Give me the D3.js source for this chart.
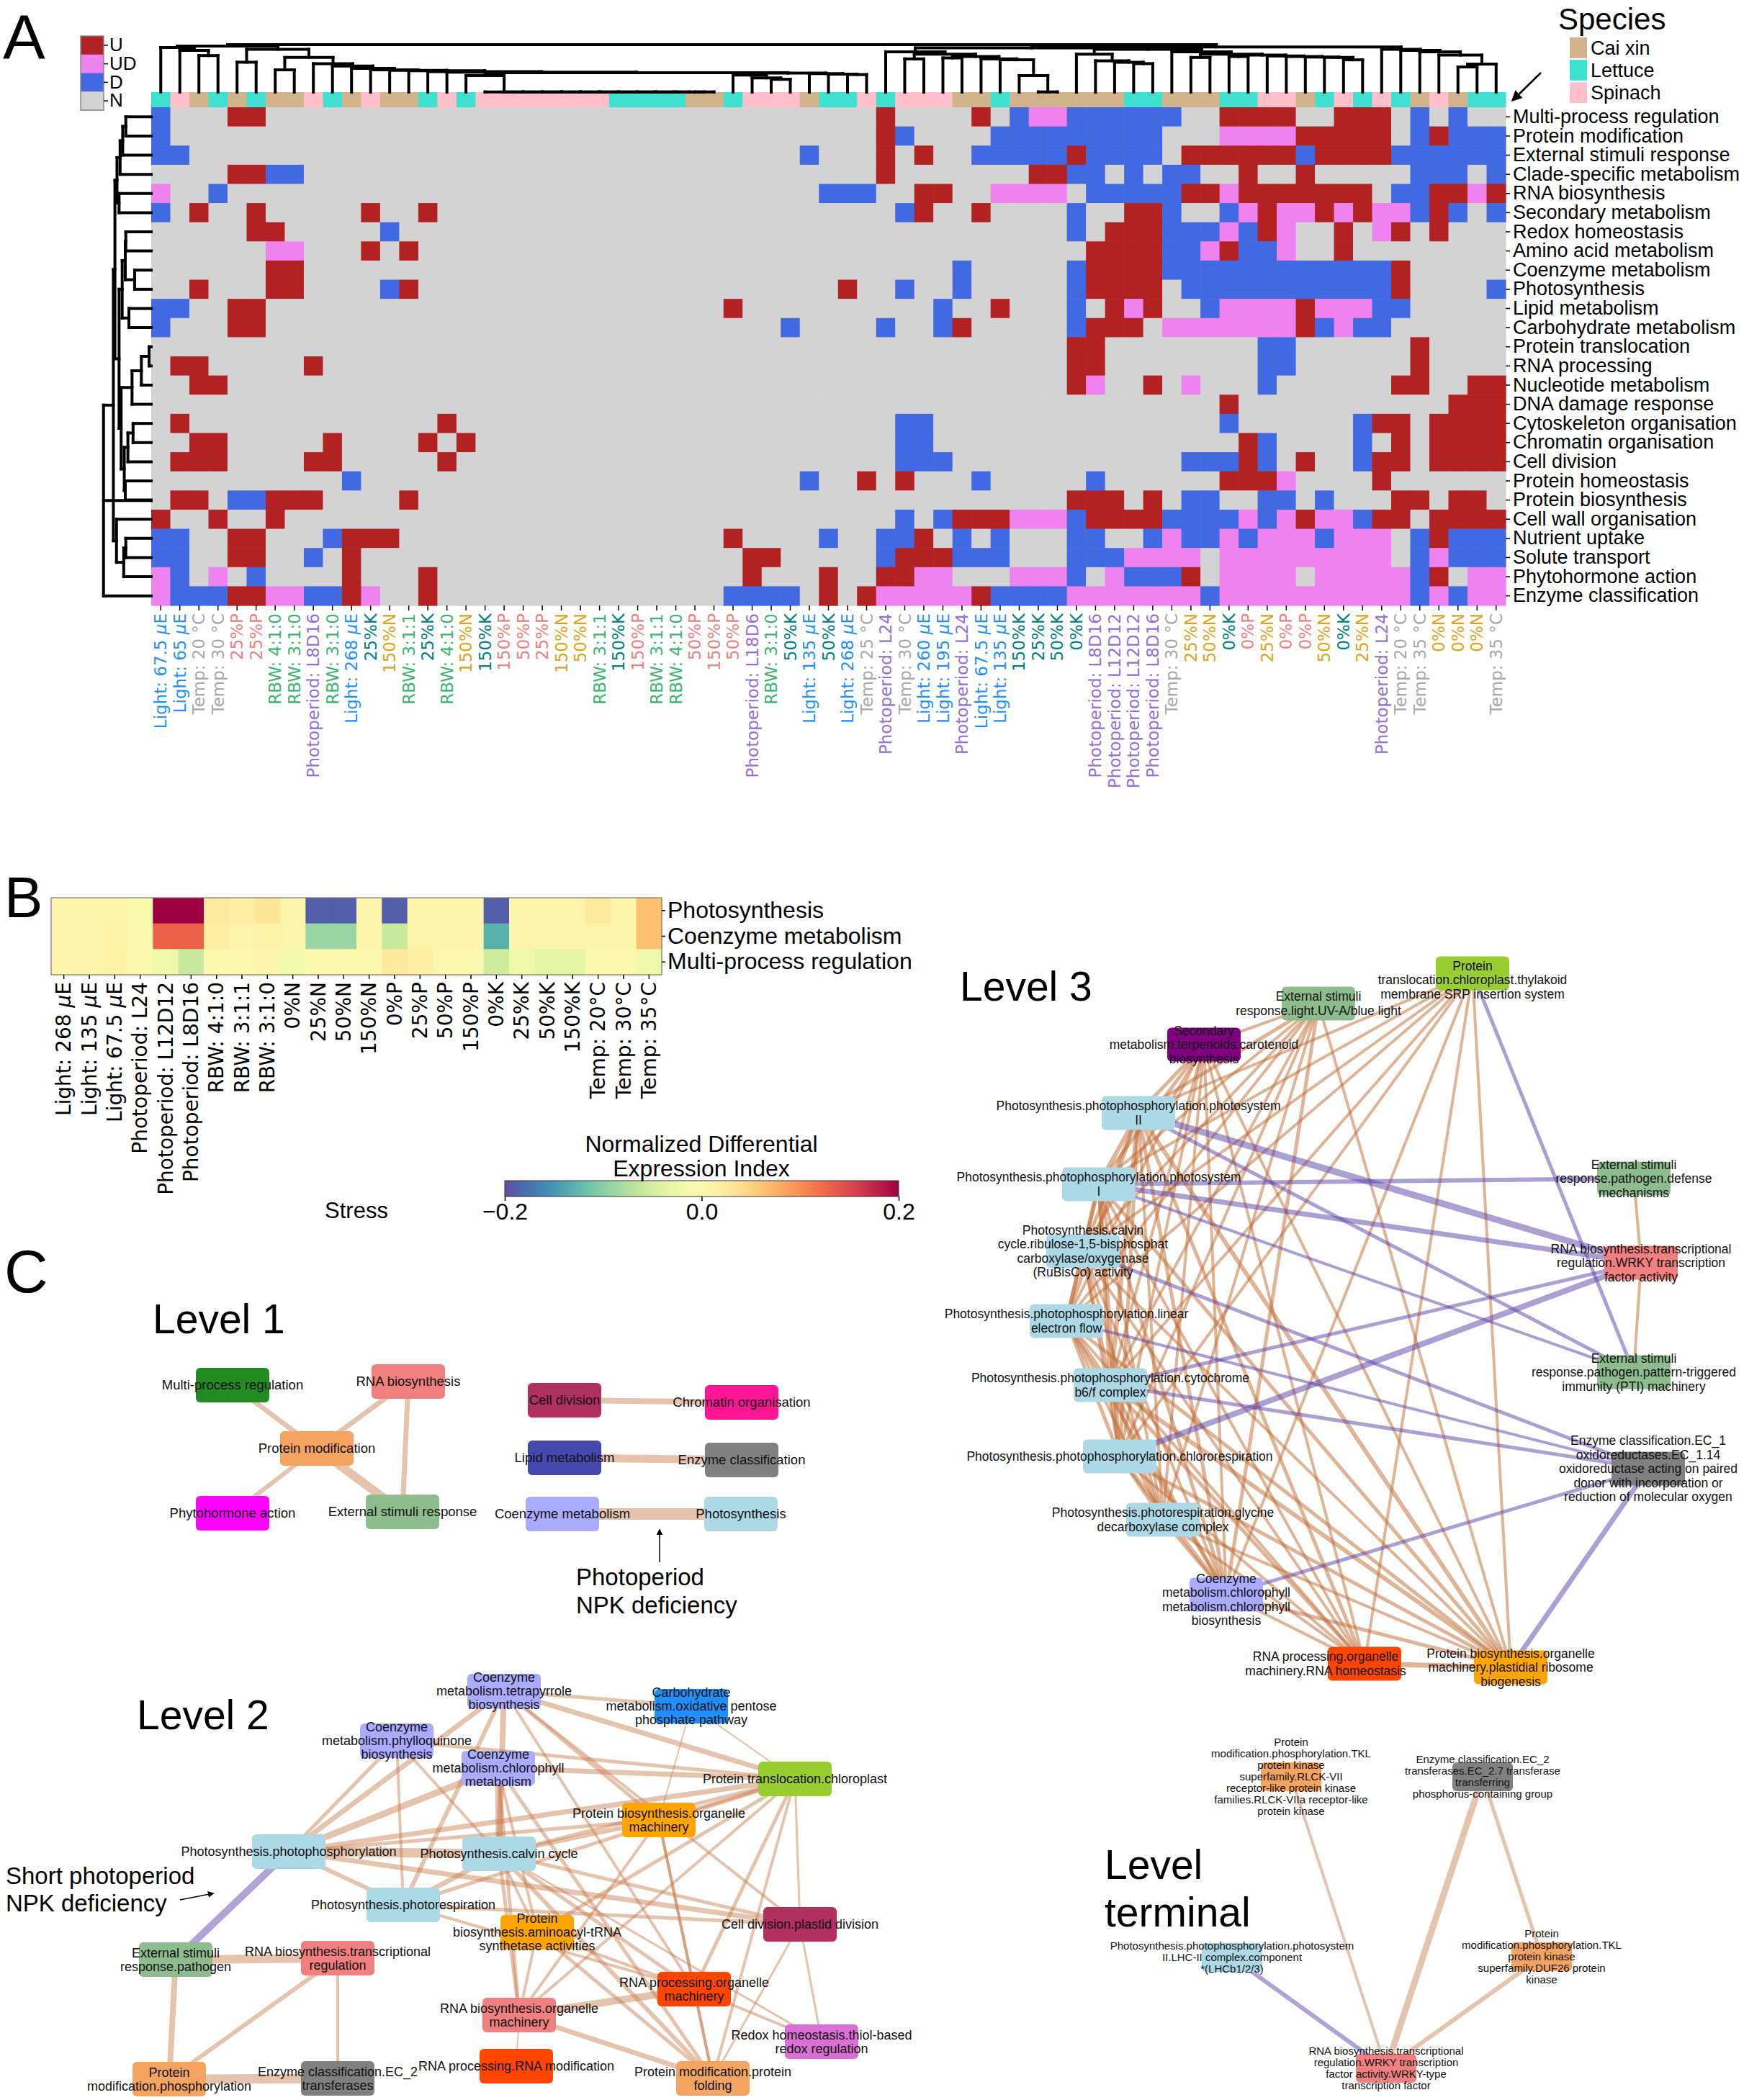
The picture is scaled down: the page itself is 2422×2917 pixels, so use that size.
<!DOCTYPE html>
<html>
<head>
<meta charset="utf-8">
<script src="https://cdn.jsdelivr.net/npm/d3@7/dist/d3.min.js"></script>
<style>
  body { margin: 0; background: #fff; }
  svg { display: block; font-family: "Liberation Sans", Arial, sans-serif; }
</style>
</head>
<body>
<div id="chart"></div>
<script>
'use strict';

// ---------------- Panel A: data ----------------
const rowNames = [
  'Multi-process regulation', 'Protein modification', 'External stimuli response',
  'Clade-specific metabolism', 'RNA biosynthesis', 'Secondary metabolism',
  'Redox homeostasis', 'Amino acid metabolism', 'Coenzyme metabolism', 'Photosynthesis',
  'Lipid metabolism', 'Carbohydrate metabolism', 'Protein translocation', 'RNA processing',
  'Nucleotide metabolism', 'DNA damage response', 'Cytoskeleton organisation',
  'Chromatin organisation', 'Cell division', 'Protein homeostasis', 'Protein biosynthesis',
  'Cell wall organisation', 'Nutrient uptake', 'Solute transport', 'Phytohormone action',
  'Enzyme classification'
];

const colLabels = [
  'Light: 67.5 μE', 'Light: 65 μE', 'Temp: 20 °C', 'Temp: 30 °C', '25%P', '25%P', 'RBW: 4:1:0', 'RBW: 3:1:0', 'Photoperiod: L8D16', 'RBW: 3:1:0',
  'Light: 268 μE', '25%K', '150%N', 'RBW: 3:1:1', '25%K', 'RBW: 4:1:0', '150%N', '150%K', '150%P', '50%P',
  '25%P', '150%N', '50%N', 'RBW: 3:1:1', '150%K', '150%P', 'RBW: 3:1:1', 'RBW: 4:1:0', '50%P', '150%P',
  '50%P', 'Photoperiod: L18D6', 'RBW: 3:1:0', '50%K', 'Light: 135 μE', '50%K', 'Light: 268 μE', 'Temp: 25 °C', 'Photoperiod: L24', 'Temp: 30 °C',
  'Light: 260 μE', 'Light: 195 μE', 'Photoperiod: L24', 'Light: 67.5 μE', 'Light: 135 μE', '150%K', '25%K', '50%K', '0%K', 'Photoperiod: L8D16',
  'Photoperiod: L12D12', 'Photoperiod: L12D12', 'Photoperiod: L8D16', 'Temp: 30 °C', '25%N', '50%N', '0%K', '0%P', '25%N', '0%P',
  '0%P', '50%N', '0%K', '25%N', 'Photoperiod: L24', 'Temp: 20 °C', 'Temp: 35 °C', '0%N', '0%N', '0%N',
  'Temp: 35 °C'
];

// C = Cai xin, L = Lettuce, S = Spinach
const colSpecies = 'LSCLCLCCSL CSCCLSLSSS SSSSLLLLCC LSSSCLLSLS SSCCLCCCCC CLLCCCLLSS CLSLSLCSCL L';

// u = U, x = UD, d = D, . = N   (71 columns, grouped by 10)
const heatRows = [
  'd...uu.... .......... .......... ........u. ...u.dxxdd dddd..uuuu ..uuu.d.d. .',
  'd......... .......... .......... ........ud ....dddddd ddd...xxxx uuuuu.dudd d',
  'dd........ .......... .......... ....d...u. u..dddddud ddd.uuuuuu duuuuddddd d',
  '....uudd.. .......... .......... ........u. ......uudd .d.dd..u.. u.....ddd. d',
  'x..d...... .......... .......... .....ddd.. uu..xxxx.d dddduuxuuu uuuu.dduux u',
  'd.u..u.... .u..u..... .......... .........d u..u....d. .uud..dxux xuxuxxdud. d',
  '.....uu... ..d....... .......... .......... ........d. uuudddxdux ..u.xu.u.. .',
  '......xx.. .u.u...... .......... .......... .........u uuuddxuddx ..u....... .',
  '......uu.. .......... .......... .......... ..d.....du uuuddddddd dddddu.... .',
  '..u...uu.. ..du...... .......... ......u..d ..d.....du uuu.dddddd dddddu.... d',
  'dd..uu.... .......... .......... u......... .d..u...d. uxu..dxxxx uxxxdd.... .',
  'd...uu.... .......... .......... ...d....d. .du.....du uu.xxxxxxx udxdd..... .',
  '.......... .......... .......... .......... ........uu ........dd ......u... .',
  '.uu.....u. .......... .......... .......... ........uu ........dd ......u... .',
  '..uu...... .......... .......... .......... ........ux ..u.x...d. .....uu..u u',
  '.......... .......... .......... .......... .......... ......u... ........uu u',
  '.u........ .....u.... .......... .........d d......... ......d... ...duu.uuu u',
  '..uu.....u ....u.u... .......... .........d d......... .......ud. ...d.u.uuu u',
  '.uuu....uu .....u.... .......... .........d dd........ ....dddud. u..duu.uuu u',
  '.......... d......... .......... ....d..u.u ...d.....d ......uuux ....u..... .',
  '.uu.dduuu. ...u...... .......... .......... ........uu u.u.dd..dd .d...uu.uu .',
  'u..u..u... .......... .......... .........d .duuuxxxdu uuuddddxdx uxxduu.uuu u',
  'dd..uu...d uuu....... .......... u....d..dd u.d.d...dd ..dxddxdxx xdxxx.dudd d',
  'dd..uu..d. u......... .......... .uu.....du uuddd...dd dxxxx.xxxx xxxxx.dxdd d',
  'xd.x.d.... u...u..... .......... .u...u..uu xx...xxxd. xdddu.xxxx .xxxxxdu.x x',
  'xddduuxxdd ux..u..... .......... dddd.u.uxx xxxuddddxx xxxxxdxxxx xxxxxxdxdx x'
];

// column dendrogram (leaf = column number, number after ')' = merge height 0..1)
const flatCols = '(18,(19,(20,(21,(22,(23,(24,(25,(26,(27,(28,(29,30)0.005)0.005)0.005)0.005)0.005)0.005)0.005)0.005)0.005)0.005)0.005)0.005';
const midCols = `((17,${flatCols})0.35,((31,(32,(33,34)0.27)0.30)0.36,(35,(36,(37,38)0.37)0.38)0.39)0.40)0.41`;
const ladderCols = `(9,(10,(11,(12,(13,(14,(15,(16,${midCols})0.42)0.43)0.45)0.46)0.47)0.50)0.55)0.60`;
const leftCols = `((1,(2,(3,4)0.77)0.88)0.94,((5,6)0.63,((7,8)0.47,${ladderCols})0.73)0.90)0.97`;
const rightColsA = '(39,((40,41)0.70,((42,43)0.72,(44,(45,(46,(47,48)0.005)0.35)0.68)0.70)0.75)0.80)0.85';
const rightColsB = '((49,(50,(51,(52,53)0.60)0.63)0.66)0.80,(54,((55,56)0.73,((57,58)0.75,(59,(60,(61,(62,(63,64)0.68)0.73)0.74)0.75)0.76)0.78)0.80)0.85)0.90';
const rightColsC = '(65,(66,(67,(68,((69,70)0.53,71)0.59)0.78)0.85)0.88)0.90';
const colTree = `(${leftCols},((${rightColsA},${rightColsB})0.93,${rightColsC})0.95)1.0`;

// row dendrogram (leaf = row number)
const rowTree = '((((((((1,2)0.49,3)0.55,4)0.60,(5,6)0.62)0.66,' +
  '((((7,8)0.49,(9,10)0.32)0.50,(11,12)0.43)0.56,' +
  '((((13,14)0.04,15)0.19,16)0.37,(((17,18)0.35,19)0.45,(20,21)0.50)0.52)0.58)0.62)0.70,' +
  '(22,((23,24)0.49,25)0.53)0.67)0.73,26)0.92';

const stateNames = ['U', 'UD', 'D', 'N'];
const speciesNames = ['Cai xin', 'Lettuce', 'Spinach'];

// ---------------- Panel B: data ----------------
const stressCols = ['Light: 268 μE', 'Light: 135 μE', 'Light: 67.5 μE', 'Photoperiod: L24', 'Photoperiod: L12D12',
  'Photoperiod: L8D16', 'RBW: 4:1:0', 'RBW: 3:1:1', 'RBW: 3:1:0', '0%N', '25%N', '50%N', '150%N', '0%P', '25%P',
  '50%P', '150%P', '0%K', '25%K', '50%K', '150%K', 'Temp: 20°C', 'Temp: 30°C', 'Temp: 35°C'];
const stressRows = ['Photosynthesis', 'Coenzyme metabolism', 'Multi-process regulation'];
const ndeiPhotosynthesis = [0.01, 0.01, 0.01, -0.005, 0.2, 0.2, 0.025, 0.02, 0.03, 0.01, -0.19, -0.19, 0.01, -0.19, 0.01, 0.01, 0.01, -0.19, 0.01, 0.01, 0.01, 0.025, 0.01, 0.065];
const ndeiCoenzyme = [0.01, 0.01, 0.015, 0.0, 0.13, 0.13, 0.02, 0.01, 0.015, 0.01, -0.09, -0.09, 0.01, -0.06, 0.01, 0.01, 0.01, -0.13, 0.01, 0.01, 0.01, 0.01, 0.01, 0.065];
const ndeiMultiProcess = [0.01, 0.01, 0.015, 0.005, -0.025, -0.06, 0.005, 0.005, 0.01, -0.02, 0.005, 0.005, 0.005, 0.025, 0.02, 0.005, 0.005, -0.055, -0.025, -0.035, -0.035, 0.005, 0.005, -0.025];

// ---------------- Panel C: networks ('|' = line break, x/y in layout units) ----------------
const level1Nodes = [
  ['Multi-process regulation', 123, 74], ['RNA biosynthesis', 367, 69], ['Protein modification', 240, 162],
  ['Phytohormone action', 123, 252], ['External stimuli response', 359, 250], ['Cell division', 584, 95],
  ['Chromatin organisation', 830, 98], ['Lipid metabolism', 584, 175], ['Enzyme classification', 830, 178],
  ['Coenzyme metabolism', 581, 253], ['Photosynthesis', 829, 253]
];
const level1Edges = [[1, 3, 7], [2, 3, 7], [2, 5, 7], [3, 4, 6], [3, 5, 12], [6, 7, 8], [8, 9, 11], [10, 11, 16]];

const level2Nodes = [
  ['Coenzyme|metabolism.tetrapyrrole|biosynthesis', 700, 49],
  ['Carbohydrate|metabolism.oxidative pentose|phosphate pathway', 960, 70],
  ['Coenzyme|metabolism.phylloquinone|biosynthesis', 551, 118],
  ['Coenzyme|metabolism.chlorophyll|metabolism', 692, 156],
  ['Protein translocation.chloroplast', 1104, 171],
  ['Protein biosynthesis.organelle|machinery', 915, 228],
  ['Photosynthesis.photophosphorylation', 401, 272],
  ['Photosynthesis.calvin cycle', 693, 275],
  ['Photosynthesis.photorespiration', 560, 346],
  ['Protein|biosynthesis.aminoacyl-tRNA|synthetase activities', 746, 384],
  ['Cell division.plastid division', 1111, 373],
  ['External stimuli|response.pathogen', 244, 422],
  ['RNA biosynthesis.transcriptional|regulation', 469, 420],
  ['RNA processing.organelle|machinery', 964, 463],
  ['RNA biosynthesis.organelle|machinery', 721, 499],
  ['Redox homeostasis.thiol-based|redox regulation', 1141, 536],
  ['RNA processing.RNA modification', 717, 570],
  ['Protein|modification.phosphorylation', 235, 588],
  ['Enzyme classification.EC_2|transferases', 469, 587],
  ['Protein modification.protein|folding', 990, 587]
];
const level2Edges = [
  [7, 12, 10, 'p'],
  [12, 13, 12], [12, 18, 8], [13, 18, 6], [13, 19, 4], [18, 19, 13],
  [7, 8, 13], [7, 1, 7], [7, 3, 5], [7, 4, 9], [7, 5, 7], [7, 6, 5], [7, 9, 6], [7, 11, 7],
  [8, 1, 8], [8, 3, 4], [8, 4, 9], [8, 5, 5], [8, 6, 6], [8, 9, 7], [8, 10, 4], [8, 14, 5], [8, 15, 5],
  [8, 20, 6], [8, 11, 5], [8, 16, 3],
  [1, 2, 5], [1, 5, 7], [1, 9, 6], [1, 6, 5], [1, 14, 4], [1, 11, 4],
  [2, 5, 2], [2, 6, 2], [3, 5, 5], [3, 9, 4],
  [4, 5, 7], [4, 15, 5], [4, 20, 5], [4, 10, 4],
  [5, 6, 5], [5, 9, 5], [5, 10, 5], [5, 14, 5], [5, 15, 4], [5, 20, 4], [5, 11, 3],
  [9, 11, 5], [9, 14, 4], [10, 14, 4], [10, 20, 5], [10, 15, 4],
  [11, 16, 3], [11, 20, 3], [14, 15, 10], [14, 16, 4], [14, 20, 4],
  [15, 17, 2], [15, 20, 7], [6, 14, 4], [6, 20, 4], [6, 15, 4]
];

const level3Nodes = [
  ['Protein|translocation.chloroplast.thylakoid|membrane SRP insertion system', 745, 52, 0, 9],
  ['External stimuli|response.light.UV-A/blue light', 531, 94],
  ['Secondary|metabolism.terpenoids.carotenoid|biosynthesis', 372, 151],
  ['Photosynthesis.photophosphorylation.photosystem|II', 281, 246],
  ['Photosynthesis.photophosphorylation.photosystem|I', 226, 345],
  ['Photosynthesis.calvin|cycle.ribulose-1,5-bisphosphat|carboxylase/oxygenase|(RuBisCo) activity', 204, 438],
  ['Photosynthesis.photophosphorylation.linear|electron flow', 181, 535],
  ['Photosynthesis.photophosphorylation.cytochrome|b6/f complex', 242, 624],
  ['Photosynthesis.photophosphorylation.chlororespiration', 255, 723],
  ['Photosynthesis.photorespiration.glycine|decarboxylase complex', 315, 811],
  ['Coenzyme|metabolism.chlorophyll|metabolism.chlorophyll|biosynthesis', 403, 915, 0, 7],
  ['RNA processing.organelle|machinery.RNA homeostasis', 595, 1011, -54, 0],
  ['Protein biosynthesis.organelle|machinery.plastidial ribosome|biogenesis', 798, 1016],
  ['External stimuli|response.pathogen.defense|mechanisms', 969, 337],
  ['RNA biosynthesis.transcriptional|regulation.WRKY transcription|factor activity', 979, 454],
  ['External stimuli|response.pathogen.pattern-triggered|immunity (PTI) machinery', 969, 606],
  ['Enzyme classification.EC_1|oxidoreductases.EC_1.14|oxidoreductase acting on paired|donor with incorporation or|reduction of molecular oxygen', 989, 740]
];
const level3Edges = [
  [4, 5, 6], [4, 6, 5], [4, 7, 5], [4, 8, 6], [4, 9, 5], [4, 10, 4], [4, 11, 5],
  [5, 6, 5], [5, 7, 6], [5, 8, 5], [5, 9, 6], [5, 10, 4], [5, 11, 5],
  [6, 7, 5], [6, 8, 5], [6, 9, 4], [6, 10, 4], [6, 11, 4],
  [7, 8, 6], [7, 9, 5], [7, 10, 4], [7, 11, 5],
  [8, 9, 6], [8, 10, 5], [8, 11, 5], [9, 10, 5], [9, 11, 6], [10, 11, 5],
  [4, 12, 5], [4, 13, 6], [5, 12, 4], [5, 13, 5], [6, 12, 4], [6, 13, 4], [7, 12, 4], [7, 13, 5],
  [8, 12, 5], [8, 13, 6], [9, 12, 4], [9, 13, 5], [10, 12, 4], [10, 13, 4], [11, 12, 4], [11, 13, 5], [12, 13, 7],
  [1, 4, 4], [1, 5, 4], [1, 6, 4], [1, 7, 4], [1, 8, 4], [1, 9, 4], [1, 11, 4], [1, 12, 4], [1, 13, 4],
  [2, 3, 4], [2, 4, 5], [2, 5, 4], [2, 6, 4], [2, 7, 4], [2, 8, 4], [2, 9, 4], [2, 10, 4], [2, 11, 5], [2, 13, 4],
  [3, 4, 5], [3, 5, 5], [3, 6, 4], [3, 7, 4], [3, 8, 4], [3, 9, 4], [3, 10, 4], [3, 11, 4], [3, 12, 4], [3, 13, 4],
  [14, 15, 4], [15, 16, 4],
  [4, 15, 9, 'p'], [4, 16, 5, 'p'], [5, 14, 6, 'p'], [5, 15, 7, 'p'], [5, 16, 4, 'p'], [6, 17, 5, 'p'],
  [7, 17, 4, 'p'], [8, 15, 5, 'p'], [8, 17, 5, 'p'], [9, 15, 8, 'p'], [11, 17, 5, 'p'], [1, 16, 5, 'p'], [13, 17, 7, 'p']
];

const terminalNodes = [
  ['Protein|modification.phosphorylation.TKL|protein kinase|superfamily.RLCK-VII|receptor-like protein kinase|families.RLCK-VIIa receptor-like|protein kinase', 293, 88],
  ['Enzyme classification.EC_2|transferases.EC_2.7 transferase|transferring|phosphorus-containing group', 559, 88],
  ['Photosynthesis.photophosphorylation.photosystem|II.LHC-II complex.component|*(LHCb1/2/3)', 211, 339],
  ['Protein|modification.phosphorylation.TKL|protein kinase|superfamily.DUF26 protein|kinase', 641, 338],
  ['RNA biosynthesis.transcriptional|regulation.WRKY transcription|factor activity.WRKY-type|transcription factor', 425, 493]
];
const terminalEdges = [[1, 5, 4], [2, 5, 9], [2, 4, 5], [4, 5, 6], [3, 5, 6, 'p']];

// ---------------- styles ----------------
const W = 2422, H = 2917;
const stateColor = d3.scaleOrdinal().domain(stateNames).range(['#b22222', '#ee82ee', '#4169e1', '#d3d3d3']);
const speciesColor = d3.scaleOrdinal().domain(['C', 'L', 'S']).range(['#d2b48c', '#40e0d0', '#ffc0cb']);
const catColor = d3.scaleOrdinal()
  .domain(['Multi-process regulation', 'RNA biosynthesis', 'Protein modification', 'Phytohormone action',
    'External stimuli response', 'Cell division', 'Chromatin organisation', 'Lipid metabolism',
    'Enzyme classification', 'Coenzyme metabolism', 'Photosynthesis', 'Carbohydrate metabolism',
    'Protein translocation', 'Protein biosynthesis', 'RNA processing', 'Redox homeostasis', 'Secondary metabolism'])
  .range(['#228b22', '#f08080', '#f4a460', '#ff00ff', '#8fbc8f', '#b03060', '#ff1493', '#4747b0',
    '#808080', '#aaaaff', '#add8e6', '#1e90ff', '#9acd32', '#ffa500', '#ff4500', '#da70d6', '#800080']);

function labelColor(s) {
  if (s.startsWith('Light')) return '#1e90ff';
  if (s.startsWith('Temp')) return '#a9a9a9';
  if (s.startsWith('RBW')) return '#3cb371';
  if (s.startsWith('Photoperiod')) return '#9370db';
  if (s.endsWith('P')) return '#f08080';
  if (s.endsWith('K')) return '#008080';
  return '#daa520';
}

const svg = d3.select('#chart').append('svg').attr('width', W).attr('height', H);
svg.append('rect').attr('width', W).attr('height', H).attr('fill', '#fff');
const defs = svg.append('defs');
defs.append('marker').attr('id', 'arrow').attr('viewBox', '0 0 10 10')
  .attr('refX', 8).attr('refY', 5).attr('markerWidth', 6).attr('markerHeight', 6)
  .attr('orient', 'auto').append('path').attr('d', 'M0,0L10,5L0,10z').attr('fill', '#000');

function panelLetter(t, x, y, size) {
  svg.append('text').attr('x', x).attr('y', y).attr('font-size', size).text(t);
}

// put μ in italics (matplotlib mathtext look)
function italicMu(sel) {
  sel.each(function () {
    const t = d3.select(this).text();
    if (!t.includes('μ')) return;
    const [a, b] = t.split('μ');
    const el = d3.select(this).text(null);
    el.append('tspan').text(a);
    el.append('tspan').attr('font-style', 'italic').text('μ');
    el.append('tspan').text(b);
  });
}

// tiny newick-ish parser: (a,b)h
function parseTree(s) {
  let i = 0;
  function node() {
    if (s[i] === '(') {
      i++;
      const kids = [node()];
      while (s[i] === ',') { i++; kids.push(node()); }
      i++;
      let num = '';
      while (i < s.length && /[0-9.]/.test(s[i])) num += s[i++];
      return { h: +num, children: kids };
    }
    let num = '';
    while (i < s.length && /[0-9]/.test(s[i])) num += s[i++];
    return { leaf: +num, h: 0 };
  }
  return node();
}

function drawTree(str, leafPos, hScale, horizontal) {
  const root = d3.hierarchy(parseTree(str.replace(/\s+/g, '')));
  root.eachAfter(n => {
    n.p = n.children ? d3.mean(n.children, c => c.p) : leafPos(n.data.leaf);
  });
  const segs = [];
  root.each(n => {
    if (!n.children) return;
    const hv = hScale(n.data.h);
    n.children.forEach(c => segs.push([c.p, hScale(c.data.h), c.p, hv]));
    const ps = n.children.map(c => c.p);
    segs.push([d3.min(ps), hv, d3.max(ps), hv]);
  });
  svg.append('g').selectAll('path').data(segs).join('path')
    .attr('d', d => horizontal
      ? `M${d[0]},${d[1]}L${d[2]},${d[3]}`
      : `M${d[1]},${d[0]}L${d[3]},${d[2]}`)
    .attr('stroke', '#000').attr('stroke-width', 4).attr('stroke-linecap', 'square').attr('fill', 'none');
}

// ================= Panel A =================
panelLetter('A', 4, 82, 88);

const x = d3.scaleBand().domain(d3.range(colLabels.length)).range([210, 2091]);
const y = d3.scaleBand().domain(rowNames).range([149, 841]);
const codeMap = { u: 'U', x: 'UD', d: 'D', '.': 'N' };
const species = colSpecies.replace(/\s+/g, '').split('');

const cells = [];
rowNames.forEach((r, i) => {
  const s = heatRows[i].replace(/\s+/g, '');
  d3.range(colLabels.length).forEach(j => cells.push({ r, j, v: codeMap[s[j]] || 'N' }));
});

const gA = svg.append('g');
gA.append('g').selectAll('rect').data(cells).join('rect')
  .attr('x', d => x(d.j)).attr('y', d => y(d.r))
  .attr('width', x.bandwidth() + 0.6).attr('height', y.bandwidth() + 0.6)
  .attr('fill', d => stateColor(d.v));

// species strip
gA.append('g').selectAll('rect').data(species).join('rect')
  .attr('x', (d, j) => x(j)).attr('y', 128)
  .attr('width', x.bandwidth() + 0.6).attr('height', 21)
  .attr('fill', d => speciesColor(d));

// column labels
const xAxis = gA.append('g').attr('transform', 'translate(0,841)')
  .call(d3.axisBottom(x).tickSize(7).tickFormat(j => colLabels[j]));
xAxis.select('.domain').remove();
xAxis.selectAll('line').attr('stroke', '#000').attr('stroke-width', 1.5);
xAxis.selectAll('text')
  .attr('transform', 'rotate(-90)').attr('x', -11).attr('y', 0).attr('dy', '0.35em')
  .attr('text-anchor', 'end').attr('fill', j => labelColor(colLabels[j]))
  .style('font-family', '"DejaVu Sans", sans-serif').style('font-size', '23px')
  .call(italicMu);

// row labels
const yAxis = gA.append('g').attr('transform', 'translate(2091,0)')
  .call(d3.axisRight(y).tickSize(6).tickPadding(4));
yAxis.select('.domain').remove();
yAxis.selectAll('line').attr('stroke', '#000').attr('stroke-width', 1.5);
yAxis.selectAll('text').attr('fill', '#000')
  .style('font-family', '"Liberation Sans", Arial, sans-serif').style('font-size', '27px');

// dendrograms
drawTree(colTree, k => x(k - 1) + x.bandwidth() / 2,
  d3.scaleLinear().domain([0, 1]).range([128, 62]), true);
drawTree(rowTree, k => y(rowNames[k - 1]) + y.bandwidth() / 2,
  d3.scaleLinear().domain([0, 1]).range([210, 138]), false);

// state legend
const ly = d3.scaleBand().domain(stateNames).range([50, 153]);
gA.append('g').selectAll('rect').data(stateNames).join('rect')
  .attr('x', 112).attr('y', d => ly(d)).attr('width', 32).attr('height', ly.bandwidth() + 0.5)
  .attr('fill', d => stateColor(d));
gA.append('rect').attr('x', 112).attr('y', 50).attr('width', 32).attr('height', 103)
  .attr('fill', 'none').attr('stroke', '#888').attr('stroke-width', 1.5);
const lAxis = gA.append('g').attr('transform', 'translate(144,0)')
  .call(d3.axisRight(ly).tickSize(6).tickPadding(2));
lAxis.select('.domain').remove();
lAxis.selectAll('line').attr('stroke', '#000').attr('stroke-width', 1.5);
lAxis.selectAll('text').attr('fill', '#000')
  .style('font-family', '"Liberation Sans", Arial, sans-serif').style('font-size', '26px');

// species legend
svg.append('text').attr('x', 2164).attr('y', 41).attr('font-size', 42).text('Species');
const sy = d3.scaleBand().domain(speciesNames).range([52, 143]).paddingInner(0.08);
const sLeg = svg.append('g').selectAll('g').data(speciesNames).join('g')
  .attr('transform', d => `translate(2180,${sy(d)})`);
sLeg.append('rect').attr('width', 24).attr('height', sy.bandwidth())
  .attr('fill', (d, i) => speciesColor(['C', 'L', 'S'][i]));
sLeg.append('text').attr('x', 29).attr('y', sy.bandwidth() / 2).attr('dy', '0.36em')
  .attr('font-size', 27).text(d => d);
svg.append('line').attr('x1', 2140).attr('y1', 101).attr('x2', 2101).attr('y2', 139)
  .attr('stroke', '#000').attr('stroke-width', 2.5).attr('marker-end', 'url(#arrow)');

// ================= Panel B =================
panelLetter('B', 6, 1274, 80);

const xb = d3.scaleBand().domain(stressCols).range([71, 919]);
const yb = d3.scaleBand().domain(stressRows).range([1247, 1354]);
const ndei = d3.scaleSequential(t => d3.interpolateSpectral(1 - t)).domain([-0.2, 0.2]);
const bValues = [ndeiPhotosynthesis, ndeiCoenzyme, ndeiMultiProcess];
const bCells = [];
stressRows.forEach((r, i) => stressCols.forEach((c, j) => bCells.push({ r, c, v: bValues[i][j] })));

const gB = svg.append('g');
gB.append('g').selectAll('rect').data(bCells).join('rect')
  .attr('x', d => xb(d.c)).attr('y', d => yb(d.r))
  .attr('width', xb.bandwidth() + 0.6).attr('height', yb.bandwidth() + 0.6)
  .attr('fill', d => ndei(d.v));
gB.append('rect').attr('x', 71).attr('y', 1247).attr('width', 848).attr('height', 107)
  .attr('fill', 'none').attr('stroke', '#777').attr('stroke-width', 1.2);

const xbAxis = gB.append('g').attr('transform', 'translate(0,1354)')
  .call(d3.axisBottom(xb).tickSize(6));
xbAxis.select('.domain').remove();
xbAxis.selectAll('line').attr('stroke', '#000').attr('stroke-width', 1.5);
xbAxis.selectAll('text')
  .attr('transform', 'rotate(-90)').attr('x', -10).attr('y', 0).attr('dy', '0.35em')
  .attr('text-anchor', 'end').attr('fill', '#000')
  .style('font-family', '"DejaVu Sans", sans-serif').style('font-size', '28px')
  .call(italicMu);

const ybAxis = gB.append('g').attr('transform', 'translate(919,0)')
  .call(d3.axisRight(yb).tickSize(5).tickPadding(3));
ybAxis.select('.domain').remove();
ybAxis.selectAll('line').attr('stroke', '#000').attr('stroke-width', 1.5);
ybAxis.selectAll('text').attr('fill', '#000')
  .style('font-family', '"Liberation Sans", Arial, sans-serif').style('font-size', '32px');

gB.append('text').attr('x', 495).attr('y', 1692).attr('text-anchor', 'middle')
  .attr('font-size', 31).text('Stress');

// colour bar
const cb = d3.scaleLinear().domain([-0.2, 0.2]).range([701, 1248]);
const grad = defs.append('linearGradient').attr('id', 'cbar');
grad.selectAll('stop').data(d3.range(0, 1.0001, 0.05)).join('stop')
  .attr('offset', t => t).attr('stop-color', t => ndei(-0.2 + 0.4 * t));
gB.append('rect').attr('x', 701).attr('y', 1640).attr('width', 547).attr('height', 22)
  .attr('fill', 'url(#cbar)').attr('stroke', '#333').attr('stroke-width', 1);
const cbAxis = gB.append('g').attr('transform', 'translate(0,1662)')
  .call(d3.axisBottom(cb).tickValues([-0.2, 0, 0.2]).tickSize(6)
    .tickFormat(d => d3.format('.1f')(d).replace('-', '−')));
cbAxis.select('.domain').remove();
cbAxis.selectAll('line').attr('stroke', '#000').attr('stroke-width', 1.5);
cbAxis.selectAll('text').attr('fill', '#000')
  .style('font-family', '"Liberation Sans", Arial, sans-serif').style('font-size', '32px');
gB.append('text').attr('x', 974).attr('y', 1600).attr('text-anchor', 'middle')
  .attr('font-size', 32).text('Normalized Differential');
gB.append('text').attr('x', 974).attr('y', 1634).attr('text-anchor', 'middle')
  .attr('font-size', 32).text('Expression Index');

// ================= Panel C =================
panelLetter('C', 6, 1795, 84);

function drawNetwork(nodes, edges, o) {
  const g = svg.append('g');
  const sx = d3.scaleLinear().domain([0, 1000]).range([o.x0, o.x0 + 1000]);
  const syy = d3.scaleLinear().domain([0, 1000]).range([o.y0, o.y0 + 1000]);
  const N = nodes.map(([name, nx, ny, dx = 0, dy = 0]) => ({
    lines: name.split('|'),
    cat: name.split('.')[0].replace(/\|/g, ' '),
    x: sx(nx), y: syy(ny), lx: sx(nx + dx), ly: syy(ny + dy)
  }));
  g.append('g').selectAll('line').data(edges).join('line')
    .attr('x1', e => N[e[0] - 1].x).attr('y1', e => N[e[0] - 1].y)
    .attr('x2', e => N[e[1] - 1].x).attr('y2', e => N[e[1] - 1].y)
    .attr('stroke', e => e[3] === 'p' ? o.purple : o.brown)
    .attr('stroke-opacity', e => e[3] === 'p' ? o.palpha : o.alpha)
    .attr('stroke-width', e => e[2]);
  g.append('g').selectAll('rect').data(N).join('rect')
    .attr('x', d => d.x - o.w / 2).attr('y', d => d.y - o.h / 2)
    .attr('width', o.w).attr('height', o.h).attr('rx', 6)
    .attr('fill', d => catColor(d.cat));
  g.append('g').selectAll('text').data(N).join('text')
    .attr('text-anchor', 'middle').attr('font-size', o.fs).attr('fill', '#111')
    .selectAll('tspan')
    .data(d => d.lines.map((s, i) => ({ s, x: d.lx, y: d.ly + (i - (d.lines.length - 1) / 2) * o.lh })))
    .join('tspan').attr('x', d => d.x).attr('y', d => d.y).attr('dy', '0.35em').text(d => d.s);
}

const netStyle = { brown: '#c77a49', purple: '#4f35a4', alpha: 0.45, palpha: 0.45 };

// Level 1
svg.append('text').attr('x', 212).attr('y', 1852).attr('font-size', 57).text('Level 1');
drawNetwork(level1Nodes, level1Edges, Object.assign({ x0: 200, y0: 1850, w: 102, h: 48, fs: 18.5, lh: 20 }, netStyle));
svg.append('line').attr('x1', 916).attr('y1', 2170).attr('x2', 916).attr('y2', 2125)
  .attr('stroke', '#000').attr('stroke-width', 1.5).attr('marker-end', 'url(#arrow)');
svg.append('text').attr('x', 800).attr('y', 2202).attr('font-size', 33).text('Photoperiod');
svg.append('text').attr('x', 800).attr('y', 2241).attr('font-size', 33).text('NPK deficiency');

// Level 2
svg.append('text').attr('x', 190).attr('y', 2402).attr('font-size', 57).text('Level 2');
drawNetwork(level2Nodes, level2Edges, Object.assign({ x0: 0, y0: 2300, w: 102, h: 48, fs: 18, lh: 19 }, netStyle));
svg.append('text').attr('x', 8).attr('y', 2617).attr('font-size', 33).text('Short photoperiod');
svg.append('text').attr('x', 8).attr('y', 2655).attr('font-size', 33).text('NPK deficiency');
svg.append('line').attr('x1', 250).attr('y1', 2639).attr('x2', 296).attr('y2', 2630)
  .attr('stroke', '#000').attr('stroke-width', 1.5).attr('marker-end', 'url(#arrow)');

// Level 3
svg.append('text').attr('x', 1333).attr('y', 1390).attr('font-size', 57).text('Level 3');
drawNetwork(level3Nodes, level3Edges, { x0: 1300, y0: 1300, w: 102, h: 47, fs: 17.5, lh: 19.5,
  brown: '#c06a30', purple: '#5a40a8', alpha: 0.5, palpha: 0.5 });

// Level terminal
svg.append('text').attr('x', 1534).attr('y', 2610).attr('font-size', 57).text('Level');
svg.append('text').attr('x', 1534).attr('y', 2676).attr('font-size', 57).text('terminal');
drawNetwork(terminalNodes, terminalEdges, Object.assign({ x0: 1500, y0: 2380, w: 84, h: 40, fs: 15, lh: 16 }, netStyle));
</script>
</body>
</html>
